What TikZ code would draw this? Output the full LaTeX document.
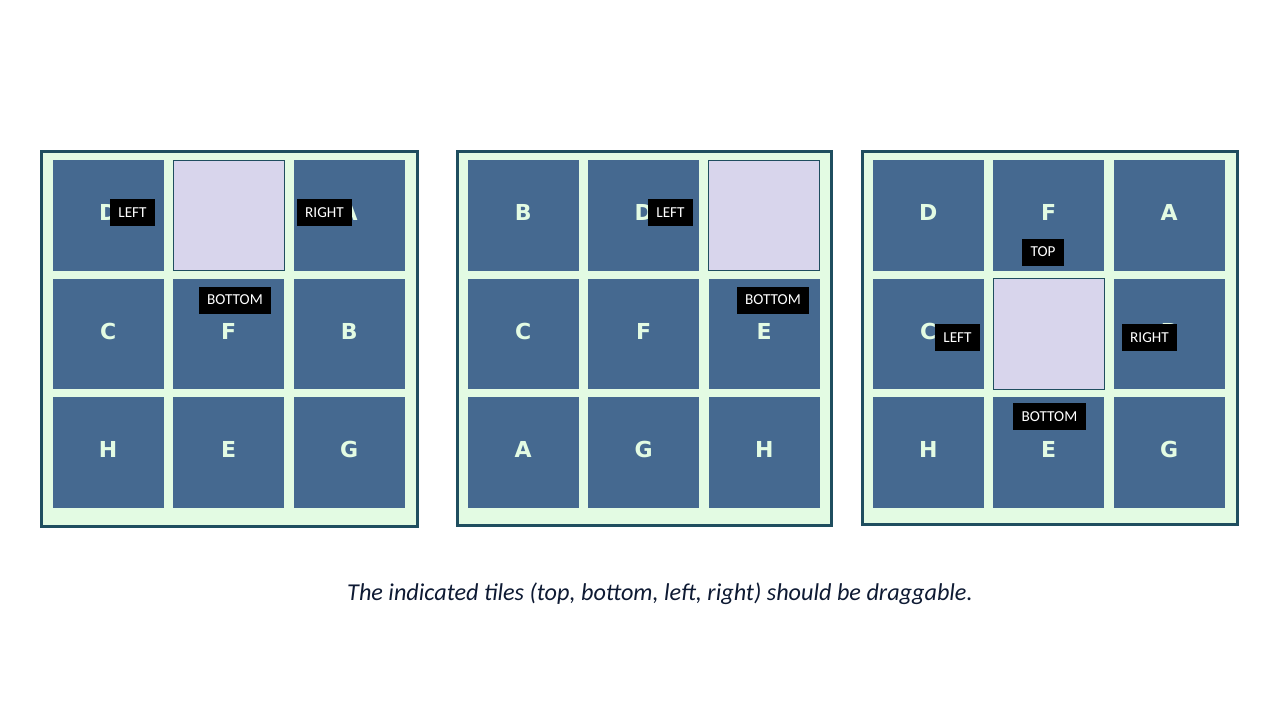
\documentclass[tikz,border=0pt]{standalone}
\usepackage{fontspec}
\setmainfont{Carlito}
\newfontfamily\tilefont{DejaVu Sans}
\definecolor{mint}{HTML}{E3FBE3}
\definecolor{tileblue}{HTML}{456990}
\definecolor{framecol}{HTML}{1F4E5F}
\definecolor{lav}{HTML}{D8D5EC}
\definecolor{capcol}{HTML}{0E1A33}
\tikzset{
  frame/.style={draw=framecol, line width=1.5pt, fill=mint},
  tile/.style={fill=tileblue, minimum width=55.5pt, minimum height=55.25pt, inner sep=0pt,
    text=mint, text depth=3pt, font=\tilefont\bfseries\fontsize{11}{11}\selectfont},
  hole/.style={fill=lav, draw=framecol, line width=0.5pt, minimum width=55.5pt, minimum height=55.25pt, inner sep=0pt},
  tag/.style={fill=black, text=white, font=\fontsize{7.6}{8}\selectfont, inner xsep=4.3pt, inner ysep=0pt, minimum height=13.5pt},
}
\begin{document}
\begin{tikzpicture}[x=0.5pt,y=-0.5pt]
\useasboundingbox (0,0) rectangle (1280,720);
\fill[white] (0,0) rectangle (1280,720);
% frames
\draw[frame] (41,151) rectangle (417,526);
\draw[frame] (457,151) rectangle (831,525);
\draw[frame] (862,151) rectangle (1237,524);
% grid 1
\foreach \l [count=\i from 0] in {D,,A,C,F,B,H,E,G}{
  \pgfmathtruncatemacro{\c}{mod(\i,3)}
  \pgfmathtruncatemacro{\r}{div(\i,3)}
  \ifx\l\empty
    \node[hole] (ga\i) at (108.2+120.5*\c, 215.5+118.5*\r) {};
  \else
    \node[tile] (ga\i) at (108.2+120.5*\c, 215.5+118.5*\r) {\l};
  \fi
}
% grid 2
\foreach \l [count=\i from 0] in {B,D,,C,F,E,A,G,H}{
  \pgfmathtruncatemacro{\c}{mod(\i,3)}
  \pgfmathtruncatemacro{\r}{div(\i,3)}
  \ifx\l\empty
    \node[hole] (gb\i) at (523.2+120.5*\c, 215.5+118.5*\r) {};
  \else
    \node[tile] (gb\i) at (523.2+120.5*\c, 215.5+118.5*\r) {\l};
  \fi
}
% grid 3
\foreach \l [count=\i from 0] in {D,F,A,C,,B,H,E,G}{
  \pgfmathtruncatemacro{\c}{mod(\i,3)}
  \pgfmathtruncatemacro{\r}{div(\i,3)}
  \ifx\l\empty
    \node[hole] (gc\i) at (928.2+120.5*\c, 215.5+118.5*\r) {};
  \else
    \node[tile] (gc\i) at (928.2+120.5*\c, 215.5+118.5*\r) {\l};
  \fi
}
% tags
\node[tag] (a-left) at (132.5,212.5) {LEFT};
\node[tag] (a-right) at (324.5,212.5) {RIGHT};
\node[tag] (a-bottom) at (235,300) {BOTTOM};
\node[tag] (b-left) at (670.5,212.5) {LEFT};
\node[tag] (b-bottom) at (773,300) {BOTTOM};
\node[tag] (c-top) at (1043,252) {TOP};
\node[tag] (c-left) at (957.5,337.5) {LEFT};
\node[tag] (c-right) at (1149.5,337.5) {RIGHT};
\node[tag] (c-bottom) at (1049.5,416.5) {BOTTOM};
% caption
\node[text=capcol, font=\itshape\fontsize{12.1}{14}\selectfont] (caption) at (660,594)
  {The indicated tiles (top, bottom, left, right) should be draggable.};
\end{tikzpicture}
\end{document}
